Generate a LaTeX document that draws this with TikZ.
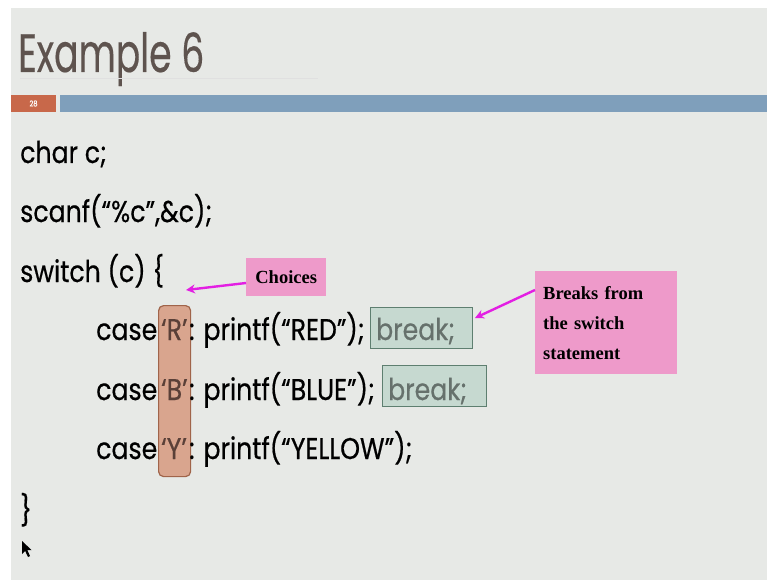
\documentclass[tikz,border=0pt]{standalone}
\usepackage{fontspec}
\setmainfont{Liberation Serif}
\newfontfamily\slidefont[FakeStretch=0.84,FakeBold=0.5]{Poppins}
\newfontfamily\titlefont[FakeStretch=0.67,FakeBold=0.25]{Poppins}
\usetikzlibrary{arrows.meta}
\definecolor{slidebg}{HTML}{E7E9E6}
\definecolor{titlecol}{HTML}{5E534E}
\definecolor{barblue}{HTML}{7F9FBB}
\definecolor{barorange}{HTML}{C8684A}
\definecolor{chfill}{HTML}{D9A58E}
\definecolor{chdraw}{HTML}{A0644A}
\definecolor{chtext}{HTML}{5A4038}
\definecolor{brfill}{HTML}{C6D9D0}
\definecolor{brdraw}{HTML}{5E7F70}
\definecolor{brtext}{HTML}{66716C}
\definecolor{pinkbox}{HTML}{EE9ACA}
\definecolor{magarrow}{HTML}{E31FE3}
\tikzset{
  code/.style={anchor=base west, inner sep=0pt, font=\slidefont\fontsize{30}{36}\selectfont, text=black},
  brkbox/.style={draw=brdraw, line width=1.2pt, fill=brfill, inner sep=0pt, minimum height=41pt, anchor=north west},
  brktext/.style={anchor=base west, inner sep=0pt, font=\slidefont\fontsize{30}{36}\selectfont, text=brtext},
  note/.style={fill=pinkbox, inner sep=0pt, anchor=north west, font=\bfseries\fontsize{18.5}{30}\selectfont},
  pointer/.style={draw=magarrow, line width=2.4pt, -{Stealth[length=9pt,width=9pt]}}
}
\begin{document}
\begin{tikzpicture}[x=1pt,y=-1pt]
\useasboundingbox (0,0) rectangle (767,580);
\fill[white] (0,0) rectangle (767,580);
\fill[slidebg] (11,8) rectangle (767,580);
% title
\node[anchor=base west, inner sep=0pt, text=titlecol, font=\titlefont\fontsize{54}{60}\selectfont] (title) at (18,72) {Example 6};
\draw[color=black!12, line width=0.6pt] (20,78) -- (318,78);
% bar
\fill[barorange] (11,95) rectangle (56,112);
\node[text=white, font=\slidefont\fontsize{8}{8}\selectfont, inner sep=0pt] (pagenum) at (33.5,103.5) {28};
\fill[barblue] (60,95) rectangle (767,112);
% choice column box
\node[draw=chdraw, line width=1.2pt, fill=chfill, rounded corners=5pt, minimum width=32pt, minimum height=171pt, inner sep=0pt, anchor=north west] (chbox) at (158,305) {};
% break boxes
\node[brkbox, minimum width=102pt] (brk1) at (370,307) {};
\node[brkbox, minimum width=104pt] (brk2) at (382,365) {};
% code
\node[code] (l1) at (20,163) {char c;};
\node[code] (l2) at (20,222) {scanf(“\%c”,\&c);};
\node[code] (l3) at (20,282) {switch (c) \{};
\node[code] (c1) at (96,340) {case};
\node[code, text=chtext] (r1) at (161,340) {‘R’};
\node[code] (p1) at (189,340) {: printf(“RED”);};
\node[brktext] (b1) at (376,340) {break;};
\node[code] (c2) at (96,400) {case};
\node[code, text=chtext] (r2) at (161,400) {‘B’};
\node[code] (p2) at (189,400) {: printf(“BLUE”);};
\node[brktext] (b2) at (388,400) {break;};
\node[code] (c3) at (96,459) {case};
\node[code, text=chtext] (r3) at (161,459) {‘Y’};
\node[code] (p3) at (189,459) {: printf(“YELLOW”);};
\node[code] (l7) at (20,521) {\}};
% notes
\node[note, minimum width=80pt, minimum height=38pt] (choices) at (246,258) {Choices};
\node[note, minimum width=142pt, minimum height=103pt, align=left, text width=126pt, inner xsep=8pt] (breaks) at (535,271) {Breaks from\\the switch\\statement};
% arrows
\coordinate (chs) at (246,283);
\coordinate (che) at (186,290);
\draw[pointer] (chs) -- (che);
\coordinate (bks) at (535,290);
\coordinate (bke) at (475,318);
\draw[pointer] (bks) -- (bke);
% cursor
\fill[black] (22,541) -- (22,554) -- (25.2,551) -- (28,557) -- (30,556) -- (27.3,550) -- (31.5,550) -- cycle;
\end{tikzpicture}
\end{document}
